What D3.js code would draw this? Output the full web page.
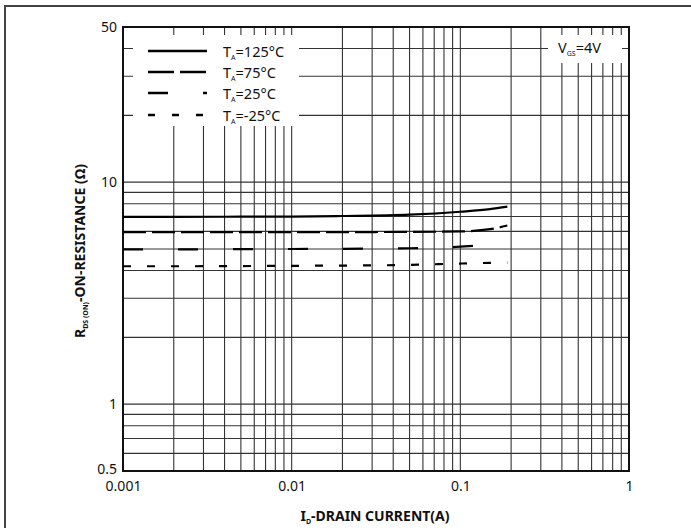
<!DOCTYPE html>
<html>
<head>
<meta charset="utf-8">
<script src="https://cdn.jsdelivr.net/npm/d3@7"></script>
<style>
  body { margin: 0; background: #fff; }
  text { font-family: "Noto Sans", sans-serif; fill: #111; }
</style>
</head>
<body>
<div id="container"></div>
<script>
/** CONSTANTS AND GLOBALS */
const width = 691,
  height = 528,
  plot = { left: 123, right: 629, top: 27, bottom: 471 };

/** DATA */
const currents = [0.001, 0.002, 0.005, 0.01, 0.02, 0.05, 0.1, 0.15, 0.19];
const r125 = [6.98, 6.98, 6.99, 7.0, 7.04, 7.14, 7.36, 7.56, 7.76];
const r75 = [5.96, 5.96, 5.96, 5.96, 5.96, 5.97, 6.0, 6.14, 6.38];
const r25 = [4.98, 4.98, 4.99, 5.0, 5.01, 5.04, 5.12, 5.24, 5.35];
const rm25 = [4.18, 4.18, 4.19, 4.2, 4.21, 4.24, 4.3, 4.33, 4.34];
const seriesNames = ["125°C", "75°C", "25°C", "-25°C"];
const xTickLabels = [0.001, 0.01, 0.1, 1];
const yTickLabels = [0.5, 1, 10, 50];

const series = [
  { name: seriesNames[0], values: r125, dash: null, legendDash: null },
  { name: seriesNames[1], values: r75, dash: "23,6", legendDash: "26,6" },
  { name: seriesNames[2], values: r25, dash: "20,35", legendDash: "20,35" },
  { name: seriesNames[3], values: rm25, dash: "8,16", legendDash: "7,17" }
];

const svg = d3.select("#container")
  .append("svg")
  .attr("width", width)
  .attr("height", height);

// outer frame (left + top only)
svg.append("path")
  .attr("d", `M5,${height} V6 H${width}`)
  .attr("fill", "none")
  .attr("stroke", "#444")
  .attr("stroke-width", 2);

const x = d3.scaleLog().domain([0.001, 1]).range([plot.left, plot.right]);
const y = d3.scaleLog().domain([0.5, 50]).range([plot.bottom, plot.top]);

// grid
const grid = svg.append("g").attr("class", "grid");
grid.selectAll(".vline")
  .data(x.ticks())
  .join("line")
  .attr("x1", d => x(d)).attr("x2", d => x(d))
  .attr("y1", plot.top).attr("y2", plot.bottom)
  .attr("stroke", "#333")
  .attr("stroke-width", 1.1);
grid.selectAll(".hline")
  .data(y.ticks())
  .join("line")
  .attr("x1", plot.left).attr("x2", plot.right)
  .attr("y1", d => y(d)).attr("y2", d => y(d))
  .attr("stroke", "#333")
  .attr("stroke-width", 1.1);

// plot border
svg.append("rect")
  .attr("x", plot.left).attr("y", plot.top)
  .attr("width", plot.right - plot.left)
  .attr("height", plot.bottom - plot.top)
  .attr("fill", "none")
  .attr("stroke", "#111")
  .attr("stroke-width", 2);

// tick labels
const fmt = d => String(d);
const xAxis = svg.append("g")
  .attr("transform", `translate(0,${plot.bottom})`)
  .call(d3.axisBottom(x).tickValues(xTickLabels).tickFormat(fmt).tickSize(0).tickPadding(10));
xAxis.select(".domain").remove();
xAxis.selectAll("text").attr("font-size", 14).attr("font-family", "Noto Sans").attr("fill", "#111");

const yAxis = svg.append("g")
  .attr("transform", `translate(${plot.left},0)`)
  .call(d3.axisLeft(y).tickValues(yTickLabels).tickFormat(fmt).tickSize(0).tickPadding(6));
yAxis.select(".domain").remove();
yAxis.selectAll("text").attr("font-size", 14).attr("font-family", "Noto Sans").attr("fill", "#111");
yAxis.selectAll(".tick").filter(d => d === 0.5).select("text").attr("dy", "0.2em");

// curves
const line = d3.line()
  .x(d => x(d[0]))
  .y(d => y(d[1]))
  .curve(d3.curveMonotoneX);

svg.selectAll(".curve")
  .data(series)
  .join("path")
  .attr("class", "curve")
  .attr("d", s => line(currents.map((c, i) => [c, s.values[i]])))
  .attr("fill", "none")
  .attr("stroke", "#000")
  .attr("stroke-width", 2.2)
  .attr("stroke-dasharray", s => s.dash);

// legend
const legend = svg.append("g");
legend.append("rect")
  .attr("x", 133).attr("y", 35)
  .attr("width", 166).attr("height", 91)
  .attr("fill", "#fff");

const rowY = [51, 72, 93, 115];
const rows = legend.selectAll(".row")
  .data(series)
  .join("g")
  .attr("transform", (d, i) => `translate(0,${rowY[i]})`);
rows.append("line")
  .attr("x1", 148).attr("x2", 207)
  .attr("stroke", "#000")
  .attr("stroke-width", 2.6)
  .attr("stroke-dasharray", d => d.legendDash);
const lt = rows.append("text")
  .attr("x", 223).attr("y", 6)
  .attr("font-size", 14.5);
lt.append("tspan").text("T");
lt.append("tspan").text("A").attr("font-size", 7).attr("dy", 3);
lt.append("tspan").text(d => "=" + d.name).attr("dy", -3);

// VGS box
svg.append("rect")
  .attr("x", 548).attr("y", 35)
  .attr("width", 74).attr("height", 28)
  .attr("fill", "#fff");
const vt = svg.append("text")
  .attr("x", 558).attr("y", 53)
  .attr("font-size", 14.5);
vt.append("tspan").text("V");
vt.append("tspan").text("GS").attr("font-size", 7).attr("dy", 3);
vt.append("tspan").text("=4V").attr("dy", -3);

// axis titles
const xt = svg.append("text")
  .attr("x", 375).attr("y", 521)
  .attr("text-anchor", "middle")
  .attr("font-size", 14)
  .attr("font-weight", "bold");
xt.append("tspan").text("I");
xt.append("tspan").text("D").attr("font-size", 7).attr("dy", 3);
xt.append("tspan").text("-DRAIN CURRENT(A)").attr("dy", -3);

const yt = svg.append("text")
  .attr("transform", "translate(85,251) rotate(-90)")
  .attr("text-anchor", "middle")
  .attr("font-size", 14)
  .attr("font-weight", "bold");
yt.append("tspan").text("R");
yt.append("tspan").text("DS (ON)").attr("font-size", 7).attr("dy", 3);
yt.append("tspan").text("-ON-RESISTANCE (Ω)").attr("dy", -3);
</script>
</body>
</html>
